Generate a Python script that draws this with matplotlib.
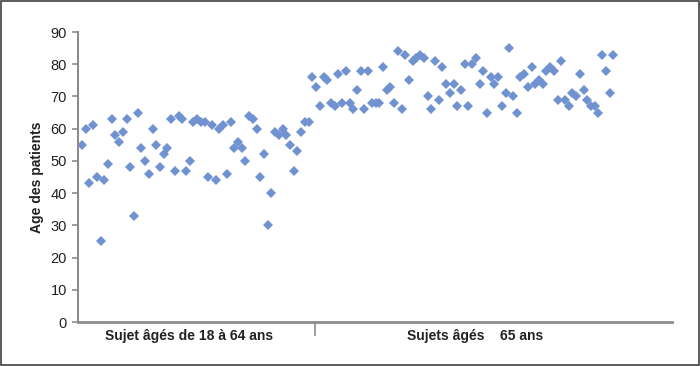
import matplotlib
matplotlib.use("Agg")
import matplotlib.pyplot as plt
import numpy as np

plt.rcParams['font.family'] = ['Liberation Sans', 'DejaVu Sans']

# ages, left to right
ages_young = [55, 60, 43, 61, 45, 25, 44, 49, 63, 58,
              56, 59, 63, 48, 33, 65, 54, 50, 46, 60,
              55, 48, 52, 54, 63, 47, 64, 63, 47, 50,
              62, 63, 62, 62, 45, 61, 44, 60, 61, 46,
              62, 54, 56, 54, 50, 64, 63, 60, 45, 52,
              30, 40, 59, 58, 60, 58, 55, 47, 53, 59,
              62, 62, 76, 73]
ages_old = [67, 76, 75, 68, 67, 77, 68, 78, 68, 66,
            72, 78, 66, 78, 68, 68, 68, 79, 72, 73,
            68, 84, 66, 83, 75, 81, 82, 83, 82, 70,
            66, 81, 69, 79, 74, 71, 74, 67, 72, 80,
            67, 80, 82, 74, 78, 65, 76, 74, 76, 67,
            71, 85, 70, 65, 76, 77, 73, 79, 74, 75,
            74, 78, 79, 78, 69, 81, 69, 67, 71, 70,
            77, 72, 69, 67, 67, 65, 83, 78, 71, 83]
group_labels = ["Sujet âgés de 18 à 64 ans", "Sujets âgés    65 ans"]
yticks = list(range(0, 100, 10))

ages = ages_young + ages_old
xs = np.arange(1, len(ages) + 1)

fig = plt.figure(figsize=(7.0, 3.66), dpi=100)
ax = fig.add_axes([78/700, 1-322/366, (672-78)/700, (322-32)/366])

ax.plot(xs, ages, linestyle='none', marker='D', markersize=4.6,
        color='#7092d0', markeredgewidth=0)

ax.set_xlim(-0.08, 159.8)
ax.set_ylim(0, 90)
ax.set_yticks(yticks)
ax.set_xticks([])

axcol = '#8c8c8c'
for s in ['top', 'right']:
    ax.spines[s].set_visible(False)
ax.spines['left'].set_color(axcol)
ax.spines['bottom'].set_color(axcol)
ax.spines['left'].set_linewidth(1.5)
ax.spines['bottom'].set_linewidth(2)
ax.tick_params(axis='y', length=4, width=1.2, color=axcol, labelsize=10.5,
               labelcolor='#222222', pad=4)

# divider tick between the two groups
div = 63.65
ax.plot([div, div], [0, -4], color=axcol, lw=1.2, clip_on=False)

ax.text((ax.get_xlim()[0] + div) / 2 - 2, -4.2, group_labels[0], ha='center', va='center',
        fontsize=10, fontweight='bold', color='#222222')
ax.text((div + ax.get_xlim()[1]) / 2 - 5, -4.2, group_labels[1], ha='center', va='center',
        fontsize=10, fontweight='bold', color='#222222')

ax.set_ylabel('Age des patients', fontsize=10, fontweight='bold', color='#222222', labelpad=5)

# outer frame
fig.patches.append(plt.Rectangle((0.001, 0.002), 0.997, 0.995, transform=fig.transFigure,
                                 fill=False, edgecolor='#404040', lw=1.2))

fig.savefig('out.png', dpi=100)
